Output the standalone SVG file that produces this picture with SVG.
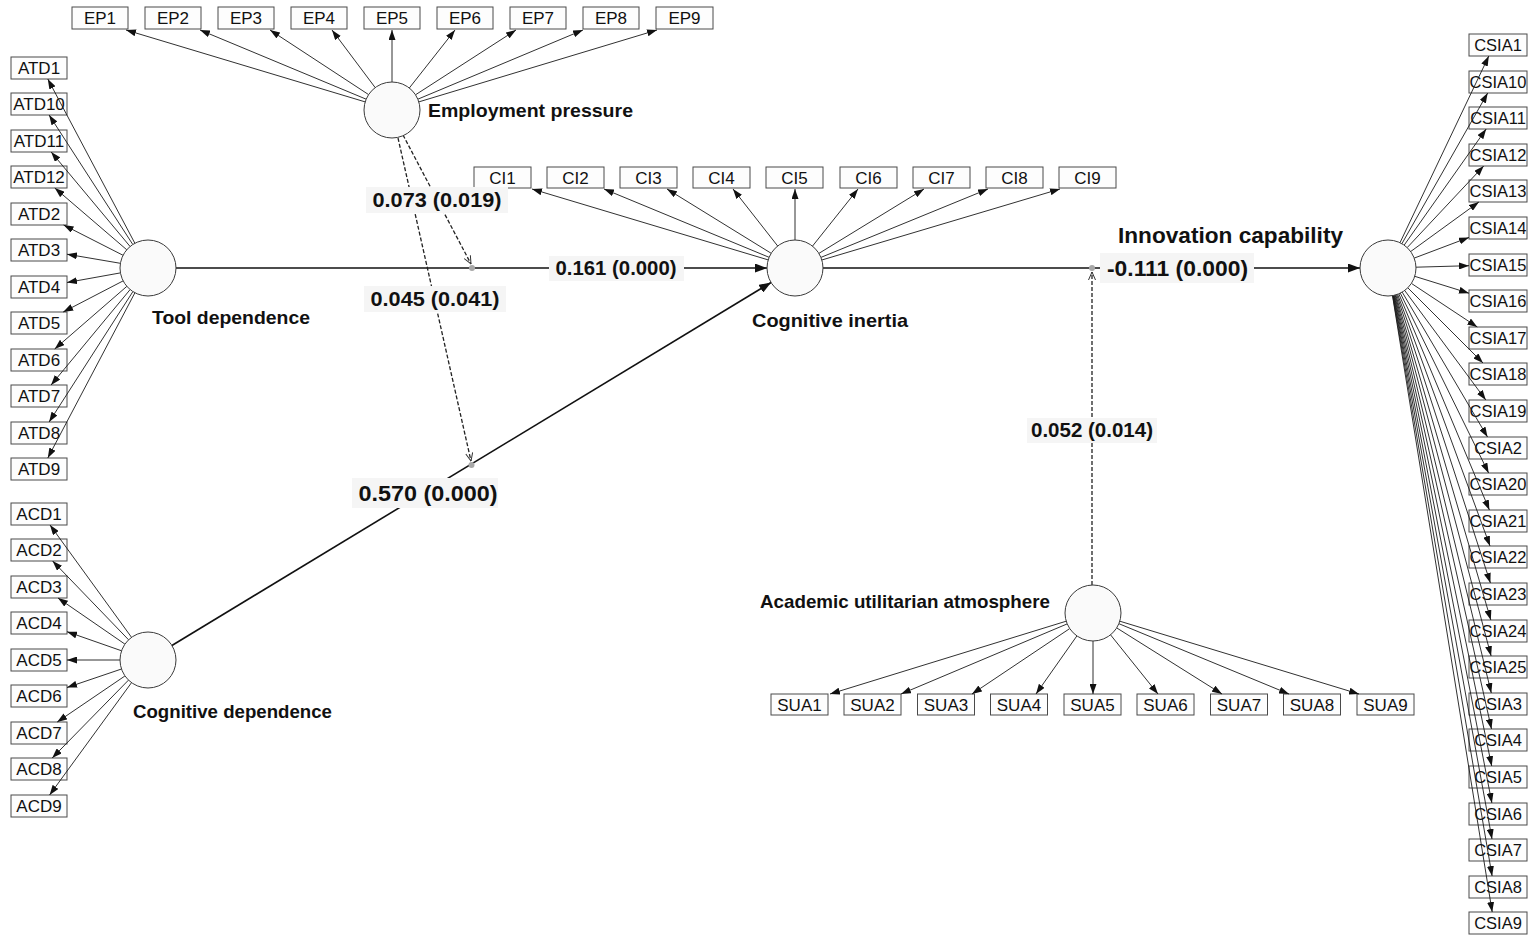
<svg xmlns="http://www.w3.org/2000/svg" width="1535" height="940" viewBox="0 0 1535 940">
<style>
.bx{fill:#fdfdfd;stroke:#4a4a4a;stroke-width:1}
.bt{font-family:"Liberation Sans",Arial,sans-serif;font-size:17px;text-anchor:middle;fill:#111}
.cs{font-size:16.5px}
.lv{fill:#fafafa;stroke:#3a3a3a;stroke-width:1}
.nl{font-family:"Liberation Sans",Arial,sans-serif;font-size:19px;font-weight:bold;fill:#111}
.ld line{stroke:#1a1a1a;stroke-width:0.9;marker-end:url(#arr)}
.sp{stroke:#111;stroke-width:1.6;marker-end:url(#arrB)}
.md{stroke:#222;stroke-width:1.3;stroke-dasharray:4 2;fill:none;marker-end:url(#arrO)}
.dot{fill:#a8a8a8}
.bg{fill:#f5f5f5}
.pl{font-family:"Liberation Sans",Arial,sans-serif;font-size:20px;font-weight:bold;text-anchor:middle;fill:#111}
</style>
<defs>
<marker id="arr" markerUnits="userSpaceOnUse" markerWidth="10" markerHeight="7" refX="10" refY="3.5" orient="auto"><path d="M0,0 L10,3.5 L0,7 z" fill="#111"/></marker>
<marker id="arrB" markerUnits="userSpaceOnUse" markerWidth="12" markerHeight="9" refX="12" refY="4.5" orient="auto"><path d="M0,0 L12,4.5 L0,9 z" fill="#111"/></marker>
<marker id="arrO" markerUnits="userSpaceOnUse" markerWidth="9" markerHeight="8" refX="8.5" refY="4" orient="auto"><path d="M0.5,0.5 L8.5,4 L0.5,7.5" fill="none" stroke="#333" stroke-width="1"/></marker>
</defs>
<rect width="1535" height="940" fill="#ffffff"/>

<!-- EP indicators -->
<g id="EP1"><rect class="bx" x="72" y="7" width="56" height="22"/><text class="bt" x="100" y="24">EP1</text></g>
<g id="EP2"><rect class="bx" x="145" y="7" width="56" height="22"/><text class="bt" x="173" y="24">EP2</text></g>
<g id="EP3"><rect class="bx" x="218" y="7" width="56" height="22"/><text class="bt" x="246" y="24">EP3</text></g>
<g id="EP4"><rect class="bx" x="291" y="7" width="56" height="22"/><text class="bt" x="319" y="24">EP4</text></g>
<g id="EP5"><rect class="bx" x="364" y="7" width="56" height="22"/><text class="bt" x="392" y="24">EP5</text></g>
<g id="EP6"><rect class="bx" x="437" y="7" width="56" height="22"/><text class="bt" x="465" y="24">EP6</text></g>
<g id="EP7"><rect class="bx" x="510" y="7" width="56" height="22"/><text class="bt" x="538" y="24">EP7</text></g>
<g id="EP8"><rect class="bx" x="583" y="7" width="56" height="22"/><text class="bt" x="611" y="24">EP8</text></g>
<g id="EP9"><rect class="bx" x="656" y="7" width="57" height="22"/><text class="bt" x="684.5" y="24">EP9</text></g>

<!-- ATD indicators -->
<g id="ATD1"><rect class="bx" x="11" y="57" width="56" height="22"/><text class="bt" x="39" y="74">ATD1</text></g>
<g id="ATD10"><rect class="bx" x="11" y="93" width="56" height="22"/><text class="bt" x="39" y="110">ATD10</text></g>
<g id="ATD11"><rect class="bx" x="11" y="130" width="56" height="22"/><text class="bt" x="39" y="147">ATD11</text></g>
<g id="ATD12"><rect class="bx" x="11" y="166" width="56" height="22"/><text class="bt" x="39" y="183">ATD12</text></g>
<g id="ATD2"><rect class="bx" x="11" y="203" width="56" height="22"/><text class="bt" x="39" y="220">ATD2</text></g>
<g id="ATD3"><rect class="bx" x="11" y="239" width="56" height="22"/><text class="bt" x="39" y="256">ATD3</text></g>
<g id="ATD4"><rect class="bx" x="11" y="276" width="56" height="22"/><text class="bt" x="39" y="293">ATD4</text></g>
<g id="ATD5"><rect class="bx" x="11" y="312" width="56" height="22"/><text class="bt" x="39" y="329">ATD5</text></g>
<g id="ATD6"><rect class="bx" x="11" y="349" width="56" height="22"/><text class="bt" x="39" y="366">ATD6</text></g>
<g id="ATD7"><rect class="bx" x="11" y="385" width="56" height="22"/><text class="bt" x="39" y="402">ATD7</text></g>
<g id="ATD8"><rect class="bx" x="11" y="422" width="56" height="22"/><text class="bt" x="39" y="439">ATD8</text></g>
<g id="ATD9"><rect class="bx" x="11" y="458" width="56" height="22"/><text class="bt" x="39" y="475">ATD9</text></g>

<!-- ACD indicators -->
<g id="ACD1"><rect class="bx" x="11" y="503" width="56" height="22"/><text class="bt" x="39" y="520">ACD1</text></g>
<g id="ACD2"><rect class="bx" x="11" y="539" width="56" height="22"/><text class="bt" x="39" y="556">ACD2</text></g>
<g id="ACD3"><rect class="bx" x="11" y="576" width="56" height="22"/><text class="bt" x="39" y="593">ACD3</text></g>
<g id="ACD4"><rect class="bx" x="11" y="612" width="56" height="22"/><text class="bt" x="39" y="629">ACD4</text></g>
<g id="ACD5"><rect class="bx" x="11" y="649" width="56" height="22"/><text class="bt" x="39" y="666">ACD5</text></g>
<g id="ACD6"><rect class="bx" x="11" y="685" width="56" height="22"/><text class="bt" x="39" y="702">ACD6</text></g>
<g id="ACD7"><rect class="bx" x="11" y="722" width="56" height="22"/><text class="bt" x="39" y="739">ACD7</text></g>
<g id="ACD8"><rect class="bx" x="11" y="758" width="56" height="22"/><text class="bt" x="39" y="775">ACD8</text></g>
<g id="ACD9"><rect class="bx" x="11" y="795" width="56" height="22"/><text class="bt" x="39" y="812">ACD9</text></g>

<!-- CI indicators -->
<g id="CI1"><rect class="bx" x="474" y="167" width="57" height="21"/><text class="bt" x="502.5" y="184">CI1</text></g>
<g id="CI2"><rect class="bx" x="547" y="167" width="57" height="21"/><text class="bt" x="575.5" y="184">CI2</text></g>
<g id="CI3"><rect class="bx" x="620" y="167" width="57" height="21"/><text class="bt" x="648.5" y="184">CI3</text></g>
<g id="CI4"><rect class="bx" x="693" y="167" width="57" height="21"/><text class="bt" x="721.5" y="184">CI4</text></g>
<g id="CI5"><rect class="bx" x="766" y="167" width="57" height="21"/><text class="bt" x="794.5" y="184">CI5</text></g>
<g id="CI6"><rect class="bx" x="840" y="167" width="57" height="21"/><text class="bt" x="868.5" y="184">CI6</text></g>
<g id="CI7"><rect class="bx" x="913" y="167" width="57" height="21"/><text class="bt" x="941.5" y="184">CI7</text></g>
<g id="CI8"><rect class="bx" x="986" y="167" width="57" height="21"/><text class="bt" x="1014.5" y="184">CI8</text></g>
<g id="CI9"><rect class="bx" x="1059" y="167" width="57" height="21"/><text class="bt" x="1087.5" y="184">CI9</text></g>

<!-- SUA indicators -->
<g id="SUA1"><rect class="bx" x="771" y="694" width="57" height="21"/><text class="bt" x="799.5" y="711">SUA1</text></g>
<g id="SUA2"><rect class="bx" x="844" y="694" width="57" height="21"/><text class="bt" x="872.5" y="711">SUA2</text></g>
<g id="SUA3"><rect class="bx" x="917.5" y="694" width="57" height="21"/><text class="bt" x="946" y="711">SUA3</text></g>
<g id="SUA4"><rect class="bx" x="990.5" y="694" width="57" height="21"/><text class="bt" x="1019" y="711">SUA4</text></g>
<g id="SUA5"><rect class="bx" x="1064" y="694" width="57" height="21"/><text class="bt" x="1092.5" y="711">SUA5</text></g>
<g id="SUA6"><rect class="bx" x="1137" y="694" width="57" height="21"/><text class="bt" x="1165.5" y="711">SUA6</text></g>
<g id="SUA7"><rect class="bx" x="1210.5" y="694" width="57" height="21"/><text class="bt" x="1239" y="711">SUA7</text></g>
<g id="SUA8"><rect class="bx" x="1283.5" y="694" width="57" height="21"/><text class="bt" x="1312" y="711">SUA8</text></g>
<g id="SUA9"><rect class="bx" x="1357" y="694" width="57" height="21"/><text class="bt" x="1385.5" y="711">SUA9</text></g>

<!-- CSIA indicators -->
<g id="CSIA1"><rect class="bx" x="1469" y="34" width="58" height="22"/><text class="bt cs" x="1498" y="51">CSIA1</text></g>
<g id="CSIA10"><rect class="bx" x="1469" y="71" width="58" height="22"/><text class="bt cs" x="1498" y="88">CSIA10</text></g>
<g id="CSIA11"><rect class="bx" x="1469" y="107" width="58" height="22"/><text class="bt cs" x="1498" y="124">CSIA11</text></g>
<g id="CSIA12"><rect class="bx" x="1469" y="144" width="58" height="22"/><text class="bt cs" x="1498" y="161">CSIA12</text></g>
<g id="CSIA13"><rect class="bx" x="1469" y="180" width="58" height="22"/><text class="bt cs" x="1498" y="197">CSIA13</text></g>
<g id="CSIA14"><rect class="bx" x="1469" y="217" width="58" height="22"/><text class="bt cs" x="1498" y="234">CSIA14</text></g>
<g id="CSIA15"><rect class="bx" x="1469" y="254" width="58" height="22"/><text class="bt cs" x="1498" y="271">CSIA15</text></g>
<g id="CSIA16"><rect class="bx" x="1469" y="290" width="58" height="22"/><text class="bt cs" x="1498" y="307">CSIA16</text></g>
<g id="CSIA17"><rect class="bx" x="1469" y="327" width="58" height="22"/><text class="bt cs" x="1498" y="344">CSIA17</text></g>
<g id="CSIA18"><rect class="bx" x="1469" y="363" width="58" height="22"/><text class="bt cs" x="1498" y="380">CSIA18</text></g>
<g id="CSIA19"><rect class="bx" x="1469" y="400" width="58" height="22"/><text class="bt cs" x="1498" y="417">CSIA19</text></g>
<g id="CSIA2"><rect class="bx" x="1469" y="437" width="58" height="22"/><text class="bt cs" x="1498" y="454">CSIA2</text></g>
<g id="CSIA20"><rect class="bx" x="1469" y="473" width="58" height="22"/><text class="bt cs" x="1498" y="490">CSIA20</text></g>
<g id="CSIA21"><rect class="bx" x="1469" y="510" width="58" height="22"/><text class="bt cs" x="1498" y="527">CSIA21</text></g>
<g id="CSIA22"><rect class="bx" x="1469" y="546" width="58" height="22"/><text class="bt cs" x="1498" y="563">CSIA22</text></g>
<g id="CSIA23"><rect class="bx" x="1469" y="583" width="58" height="22"/><text class="bt cs" x="1498" y="600">CSIA23</text></g>
<g id="CSIA24"><rect class="bx" x="1469" y="620" width="58" height="22"/><text class="bt cs" x="1498" y="637">CSIA24</text></g>
<g id="CSIA25"><rect class="bx" x="1469" y="656" width="58" height="22"/><text class="bt cs" x="1498" y="673">CSIA25</text></g>
<g id="CSIA3"><rect class="bx" x="1469" y="693" width="58" height="22"/><text class="bt cs" x="1498" y="710">CSIA3</text></g>
<g id="CSIA4"><rect class="bx" x="1469" y="729" width="58" height="22"/><text class="bt cs" x="1498" y="746">CSIA4</text></g>
<g id="CSIA5"><rect class="bx" x="1469" y="766" width="58" height="22"/><text class="bt cs" x="1498" y="783">CSIA5</text></g>
<g id="CSIA6"><rect class="bx" x="1469" y="803" width="58" height="22"/><text class="bt cs" x="1498" y="820">CSIA6</text></g>
<g id="CSIA7"><rect class="bx" x="1469" y="839" width="58" height="22"/><text class="bt cs" x="1498" y="856">CSIA7</text></g>
<g id="CSIA8"><rect class="bx" x="1469" y="876" width="58" height="22"/><text class="bt cs" x="1498" y="893">CSIA8</text></g>
<g id="CSIA9"><rect class="bx" x="1469" y="912" width="58" height="22"/><text class="bt cs" x="1498" y="929">CSIA9</text></g>

<!-- connectors -->
<g id="connectors">
 <g class="ld">
  <!-- EP -->
  <line x1="365.2" y1="101.9" x2="126" y2="30"/>
  <line x1="366.2" y1="99.2" x2="200" y2="30"/>
  <line x1="368.6" y1="94.6" x2="270" y2="30"/>
  <line x1="375.2" y1="87.6" x2="332" y2="30"/>
  <line x1="392" y1="82" x2="392" y2="30"/>
  <line x1="409.3" y1="88" x2="455" y2="30"/>
  <line x1="415.5" y1="94.8" x2="516" y2="30"/>
  <line x1="417.8" y1="99.2" x2="583" y2="30"/>
  <line x1="418.8" y1="101.9" x2="657" y2="30"/>
  <!-- ATD -->
  <line x1="134.9" y1="243.3" x2="47.8" y2="79"/>
  <line x1="132.8" y1="244.5" x2="49.1" y2="115"/>
  <line x1="130.1" y1="246.5" x2="51.2" y2="152"/>
  <line x1="126.8" y1="249.8" x2="54.8" y2="188"/>
  <line x1="123.1" y1="255.3" x2="63.6" y2="225"/>
  <line x1="120.4" y1="263.3" x2="67" y2="254.2"/>
  <line x1="120.4" y1="272.9" x2="67" y2="282.5"/>
  <line x1="123.1" y1="280.9" x2="63.2" y2="312"/>
  <line x1="126.9" y1="286.3" x2="54.7" y2="349"/>
  <line x1="130.1" y1="289.6" x2="51.1" y2="385"/>
  <line x1="132.9" y1="291.6" x2="49.1" y2="422"/>
  <line x1="134.9" y1="292.8" x2="47.8" y2="458"/>
  <!-- ACD -->
  <line x1="131.5" y1="637.3" x2="50" y2="525"/>
  <line x1="128.6" y1="639.8" x2="52.6" y2="561"/>
  <line x1="124.9" y1="644.1" x2="58" y2="598"/>
  <line x1="121.6" y1="650.8" x2="67" y2="631.7"/>
  <line x1="120" y1="660" x2="67" y2="660"/>
  <line x1="121.5" y1="669" x2="67" y2="687.5"/>
  <line x1="124.9" y1="676" x2="57.2" y2="722"/>
  <line x1="128.5" y1="680.1" x2="52.2" y2="758"/>
  <line x1="131.5" y1="682.7" x2="49.6" y2="795"/>
  <!-- CI -->
  <line x1="768.2" y1="259.9" x2="532" y2="189"/>
  <line x1="769.1" y1="257.3" x2="604" y2="189"/>
  <line x1="771.2" y1="253.3" x2="667" y2="189"/>
  <line x1="777.7" y1="246" x2="733" y2="189"/>
  <line x1="795" y1="240" x2="795" y2="189"/>
  <line x1="812.5" y1="246.1" x2="858" y2="189"/>
  <line x1="818.9" y1="253.4" x2="924" y2="189"/>
  <line x1="820.9" y1="257.4" x2="988" y2="189"/>
  <line x1="821.8" y1="260" x2="1060" y2="189"/>
  <!-- SUA -->
  <line x1="1066.2" y1="621.2" x2="830" y2="694"/>
  <line x1="1067.2" y1="623.9" x2="901" y2="694"/>
  <line x1="1069.7" y1="628.6" x2="972" y2="694"/>
  <line x1="1076.9" y1="635.9" x2="1036" y2="694"/>
  <line x1="1093" y1="641" x2="1093" y2="694"/>
  <line x1="1110.5" y1="634.8" x2="1158" y2="694"/>
  <line x1="1116.7" y1="627.9" x2="1222" y2="694"/>
  <line x1="1118.9" y1="623.7" x2="1289" y2="694"/>
  <line x1="1119.8" y1="621.2" x2="1359" y2="694"/>
  <!-- CSIA -->
  <line x1="1400" y1="242.7" x2="1488.8" y2="56"/>
  <line x1="1401.9" y1="243.7" x2="1487.7" y2="93"/>
  <line x1="1404.2" y1="245.1" x2="1486.2" y2="129"/>
  <line x1="1407.2" y1="247.6" x2="1483.7" y2="166"/>
  <line x1="1410.7" y1="251.5" x2="1478.9" y2="202"/>
  <line x1="1414.2" y1="258.1" x2="1469" y2="237.4"/>
  <line x1="1416" y1="267.2" x2="1469" y2="265.7"/>
  <line x1="1414.7" y1="276.3" x2="1469" y2="293.2"/>
  <line x1="1411.4" y1="283.4" x2="1477.3" y2="327"/>
  <line x1="1407.8" y1="287.8" x2="1483" y2="363"/>
  <line x1="1404.7" y1="290.5" x2="1485.8" y2="400"/>
  <line x1="1402.2" y1="292.1" x2="1487.5" y2="437"/>
  <line x1="1400.3" y1="293.1" x2="1488.6" y2="473"/>
  <line x1="1398.8" y1="293.8" x2="1489.4" y2="510"/>
  <line x1="1397.6" y1="294.3" x2="1490" y2="546"/>
  <line x1="1396.7" y1="294.6" x2="1490.4" y2="583"/>
  <line x1="1395.8" y1="294.9" x2="1490.8" y2="620"/>
  <line x1="1395.2" y1="295.1" x2="1491.1" y2="656"/>
  <line x1="1394.6" y1="295.2" x2="1491.3" y2="693"/>
  <line x1="1394.1" y1="295.3" x2="1491.5" y2="729"/>
  <line x1="1393.7" y1="295.4" x2="1491.7" y2="766"/>
  <line x1="1393.3" y1="295.5" x2="1491.9" y2="803"/>
  <line x1="1393" y1="295.5" x2="1492" y2="839"/>
  <line x1="1392.7" y1="295.6" x2="1492.1" y2="876"/>
  <line x1="1392.5" y1="295.6" x2="1492.2" y2="912"/>
 </g>
 <!-- structural paths -->
 <line class="sp" x1="176" y1="268" x2="767" y2="268"/>
 <line class="sp" x1="171.9" y1="645.5" x2="771.1" y2="282.5"/>
 <line class="sp" x1="823" y1="268" x2="1360" y2="268"/>
 <!-- moderation paths -->
 <line class="md" x1="403" y1="135" x2="471" y2="264"/>
 <line class="md" x1="398" y1="138" x2="471" y2="461"/>
 <line class="md" x1="1092" y1="585" x2="1092" y2="272"/>
 <circle class="dot" cx="472" cy="268" r="3"/>
 <circle class="dot" cx="471.5" cy="465" r="3"/>
 <circle class="dot" cx="1092" cy="268" r="3"/>
</g>

<!-- path labels -->
<g id="path-labels">
 <rect class="bg" x="549" y="256" width="135" height="25"/>
 <text class="pl" x="616" y="275" textLength="121" lengthAdjust="spacingAndGlyphs">0.161 (0.000)</text>
 <rect class="bg" x="366" y="187" width="142" height="26"/>
 <text class="pl" x="437" y="207" textLength="129" lengthAdjust="spacingAndGlyphs">0.073 (0.019)</text>
 <rect class="bg" x="364" y="286" width="142" height="26"/>
 <text class="pl" x="435" y="306" textLength="129" lengthAdjust="spacingAndGlyphs">0.045 (0.041)</text>
 <rect class="bg" x="352" y="478" width="146" height="30"/>
 <text class="pl" x="428" y="501" style="font-size:22px" textLength="139" lengthAdjust="spacingAndGlyphs">0.570 (0.000)</text>
 <rect class="bg" x="1100" y="253" width="154" height="30"/>
 <text class="pl" x="1177.5" y="276" style="font-size:22px" textLength="141" lengthAdjust="spacingAndGlyphs">-0.111 (0.000)</text>
 <rect class="bg" x="1027" y="418" width="130" height="25"/>
 <text class="pl" x="1092" y="437" textLength="122" lengthAdjust="spacingAndGlyphs">0.052 (0.014)</text>
</g>

<!-- latent variables -->
<g id="employment-pressure"><circle class="lv" cx="392" cy="110" r="28"/><text class="nl" x="428" y="117" textLength="205" lengthAdjust="spacingAndGlyphs">Employment pressure</text></g>
<g id="tool-dependence"><circle class="lv" cx="148" cy="268" r="28"/><text class="nl" x="152" y="324" textLength="158" lengthAdjust="spacingAndGlyphs">Tool dependence</text></g>
<g id="cognitive-dependence"><circle class="lv" cx="148" cy="660" r="28"/><text class="nl" x="133" y="718" textLength="199" lengthAdjust="spacingAndGlyphs">Cognitive dependence</text></g>
<g id="cognitive-inertia"><circle class="lv" cx="795" cy="268" r="28"/><text class="nl" x="752" y="327" textLength="156" lengthAdjust="spacingAndGlyphs">Cognitive inertia</text></g>
<g id="innovation-capability"><circle class="lv" cx="1388" cy="268" r="28"/><text class="nl" x="1118" y="243" style="font-size:22px" textLength="225" lengthAdjust="spacingAndGlyphs">Innovation capability</text></g>
<g id="academic-utilitarian-atmosphere"><circle class="lv" cx="1093" cy="613" r="28"/><text class="nl" x="760" y="608" textLength="290" lengthAdjust="spacingAndGlyphs">Academic utilitarian atmosphere</text></g>
</svg>
